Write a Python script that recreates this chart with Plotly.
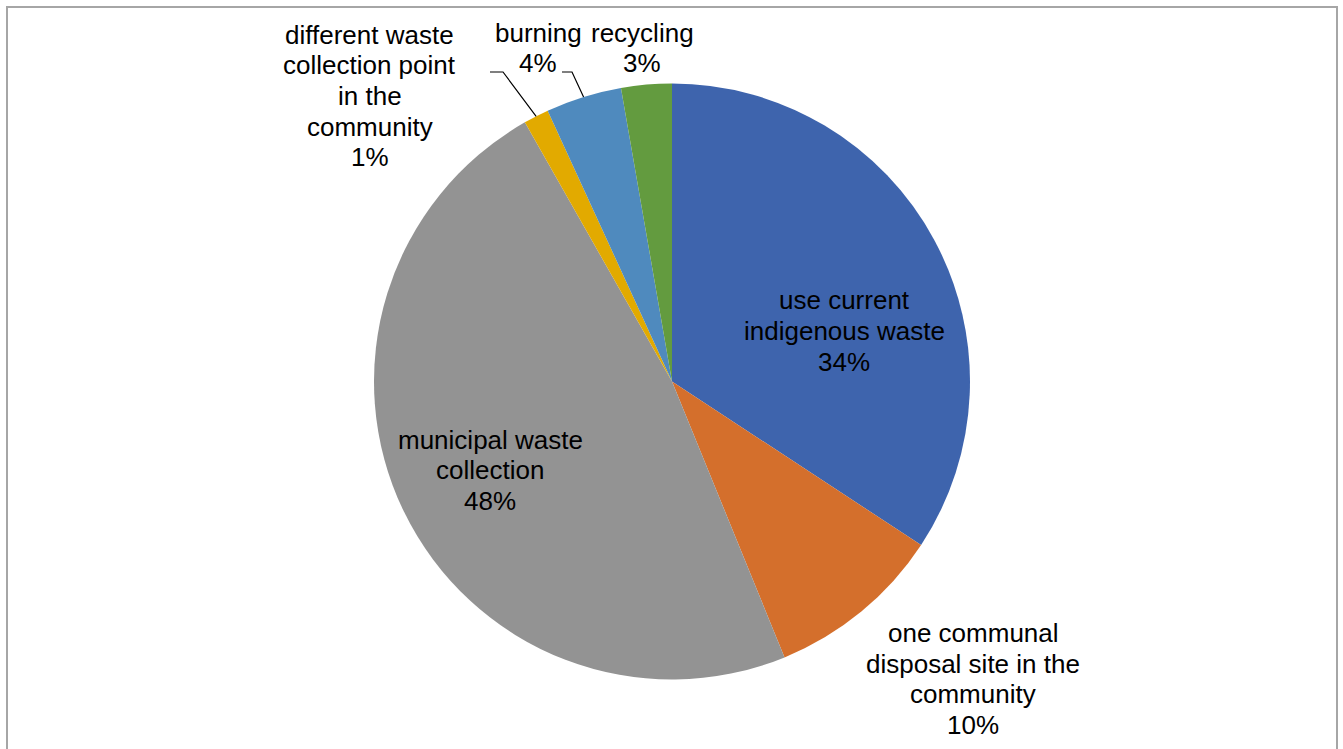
import math
import plotly.graph_objects as go

# Survey responses: preferred waste disposal option (counts)
categories = [
    "use current<br>indigenous waste",
    "one communal<br>disposal site in the<br>community",
    "municipal waste<br>collection",
    "different waste<br>collection point<br>in the<br>community",
    "burning",
    "recycling",
]
counts = [25, 7, 35, 1, 3, 2]
colors = ["#3E64AD", "#D46F2C", "#939393", "#E2AA00", "#4F8ABE", "#639B3F"]

W, H = 1343, 749
CX, CY, R = 672, 381.5, 298  # pie centre / radius in pixels
LINE_H = 30.5                # label line spacing in pixels


def px(x):
    return x / W


def py(y):
    return 1 - y / H


total = sum(counts)
pcts = [round(100 * c / total) for c in counts]

fig = go.Figure(
    go.Pie(
        labels=[c.replace("<br>", " ") for c in categories],
        values=counts,
        sort=False,
        direction="clockwise",
        rotation=0,
        marker=dict(colors=colors, line=dict(width=0)),
        textinfo="none",
        hoverinfo="label+percent",
        showlegend=False,
        domain=dict(x=[px(CX - R), px(CX + R)], y=[py(CY + R), py(CY - R)]),
    )
)

# Mid-angle of each slice (degrees clockwise from 12 o'clock)
mid_angles = []
acc = 0.0
for c in counts:
    span = 360 * c / total
    mid_angles.append(acc + span / 2)
    acc += span


def edge_point(i):
    a = math.radians(mid_angles[i])
    return CX + R * math.sin(a), CY - R * math.cos(a)


# Label block centres in pixels
label_pos = [
    (844, 331),
    (973, 679),
    (490, 470),
    (370, 96),
    (538, 48),
    (642, 48),
]

font = dict(family="Liberation Sans, Arial, sans-serif", size=26, color="#000000")
annotations = []
for i, (x, y) in enumerate(label_pos):
    lines = categories[i].split("<br>") + [f"{pcts[i]}%"]
    n = len(lines)
    for k, line in enumerate(lines):
        ly = y + (k - (n - 1) / 2) * LINE_H
        annotations.append(
            dict(
                x=px(x), y=py(ly), xref="paper", yref="paper",
                text=line, showarrow=False, font=font, align="center",
                xanchor="center", yanchor="middle",
            )
        )

shapes = []
# Leader lines: short horizontal stub, then a run to the slice edge
leaders = {3: (490, 503, 72), 4: (562, 572, 72)}
for i, (x0, x1, y0) in leaders.items():
    ex, ey = edge_point(i)
    shapes.append(dict(type="path", xref="paper", yref="paper",
                       path=f"M {px(x0)},{py(y0)} L {px(x1)},{py(y0)} L {px(ex)},{py(ey)}",
                       line=dict(color="#000000", width=1.2)))

# Chart area border
border = dict(color="#A6A6A6", width=2)
shapes += [
    dict(type="line", xref="paper", yref="paper", x0=px(6), x1=px(1338), y0=py(7), y1=py(7), line=border),
    dict(type="line", xref="paper", yref="paper", x0=px(7), x1=px(7), y0=py(6), y1=py(760), line=border),
    dict(type="line", xref="paper", yref="paper", x0=px(1337), x1=px(1337), y0=py(6), y1=py(760), line=border),
]

fig.update_layout(
    width=W, height=H,
    margin=dict(l=0, r=0, t=0, b=0),
    paper_bgcolor="white", plot_bgcolor="white",
    annotations=annotations, shapes=shapes,
)

fig.write_html("out.html")
